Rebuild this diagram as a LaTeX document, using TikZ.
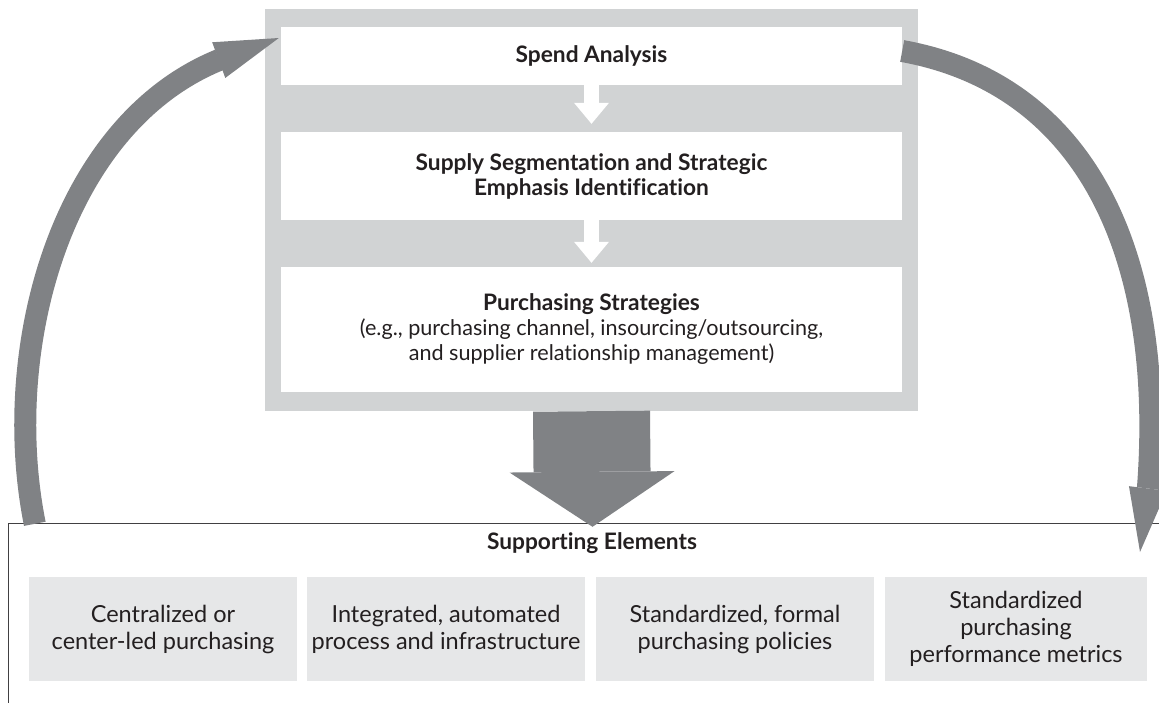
\documentclass[tikz,border=0pt]{standalone}
\usepackage{fontspec}
\setmainfont{Lato}[Ligatures=NoCommon]
\usetikzlibrary{arrows.meta,calc}

\definecolor{panelgray}{HTML}{D1D3D4}
\definecolor{boxgray}{HTML}{E6E7E8}
\definecolor{arrowgray}{HTML}{808285}
\definecolor{inkgray}{HTML}{231F20}
\definecolor{framegray}{HTML}{414042}

\begin{document}
\begin{tikzpicture}[x=1pt, y=-1pt,
  panel/.style={fill=panelgray, minimum width=653pt, minimum height=402pt, inner sep=0pt},
  stepbox/.style={fill=white, minimum width=621pt, inner sep=0pt, align=center,
    text=inkgray, font=\bfseries\fontsize{22.7}{25}\selectfont},
  detail/.style={font=\mdseries\fontsize{21.6}{25}\selectfont},
  elembox/.style={fill=boxgray, minimum height=104pt, inner sep=0pt, align=center,
    text=inkgray, font=\fontsize{23.5}{27}\selectfont},
  flowarrow/.style={draw=white, line width=15pt,
    -{Triangle[length=21pt, width=35pt, line width=0pt]}},
  bigarrow/.style={draw=arrowgray, line width=117pt,
    -{Triangle[length=55pt, width=165pt, line width=0pt]}},
  looparrow/.style={draw=arrowgray, line width=22pt,
    -{Triangle[length=64pt, width=38pt, line width=0pt]}},
  frameline/.style={draw=framegray, line width=1.2pt}
]
\useasboundingbox (0,0) rectangle (1159,702);
\clip (0,0) rectangle (1159,702);

% process panel with its three steps
\node[panel] (panel) at (591.5,210) {};
\node[stepbox, minimum height=58pt] (spend) at (591.5,56) {Spend Analysis};
\node[stepbox, minimum height=88pt] (seg) at (591.5,176)
  {Supply Segmentation and Strategic\\Emphasis Identification};
\node[stepbox, minimum height=125pt] (strat) at (591.5,329.5)
  {Purchasing Strategies\\{\fontsize{21.6}{25}\mdseries(e.g., purchasing channel, insourcing/outsourcing,}\\{\fontsize{21.6}{25}\mdseries and supplier relationship management)}};

\draw[flowarrow, shorten >=8pt] (spend) -- (seg);
\draw[flowarrow, shorten >=4pt] (seg) -- (strat);

% supporting elements frame (open to the right and below)
\node[minimum width=1161pt, minimum height=186pt, inner sep=0pt] (support) at (589.5,617) {};
\draw[frameline] (support.south west) -- (support.north west) -- (support.north east);
\node[text=inkgray, font=\bfseries\fontsize{22.7}{25}\selectfont] (suptitle) at (592,543) {Supporting Elements};

\node[elembox, minimum width=268pt] (e1) at (163,629) {Centralized or\\center-led purchasing};
\node[elembox, minimum width=278pt] (e2) at (446,629) {Integrated, automated\\process and infrastructure};
\node[elembox, minimum width=278pt] (e3) at (735,629) {Standardized, formal\\purchasing policies};
\node[elembox, minimum width=262pt] (e4) at (1016,629) {Standardized\\purchasing\\performance metrics};

% strategies feed the supporting elements
\draw[bigarrow] (panel.south) -- ($(support.north)+(3,3)$);

% feedback loops: curved shaft, then a straight run into the head
\coordinate (loopbase) at ($(support.north west)+(26,0)$);
\coordinate (loopin) at ($(spend.west)+(-2,-18)$);
\coordinate (loopout) at ($(spend.east)+(0,-5)$);
\coordinate (loopdown) at (1140,552);
\draw[looparrow] (loopbase)
  .. controls (0,350) and (60,125) .. (219,60) -- (loopin);
\draw[looparrow] (loopout)
  .. controls (1090,85) and (1165,260) .. (1148,487) -- (loopdown);
\end{tikzpicture}
\end{document}
